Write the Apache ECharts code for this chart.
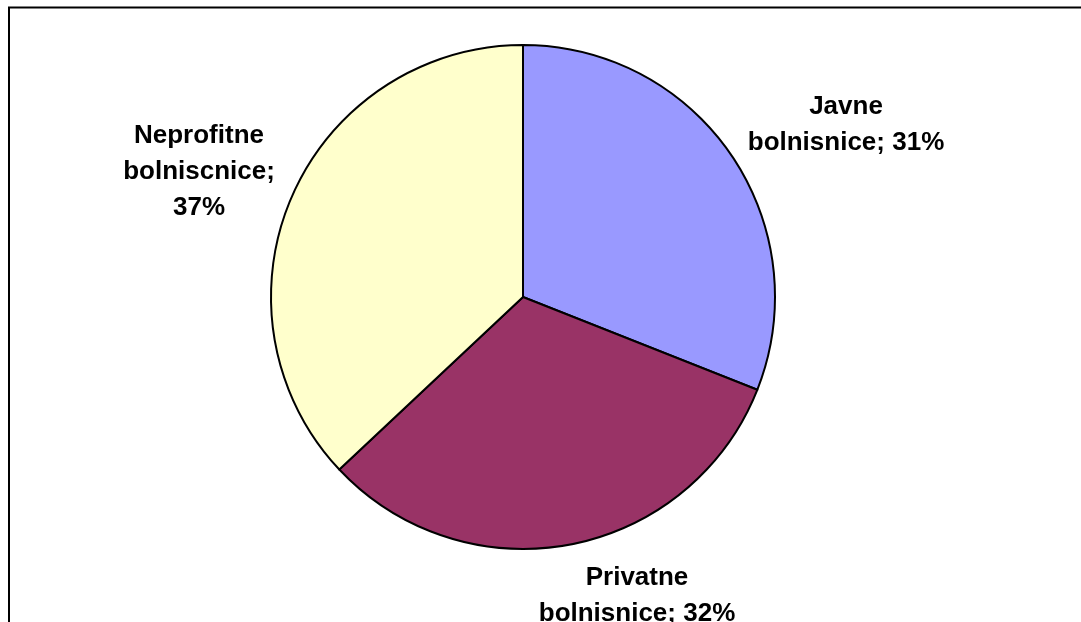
<!DOCTYPE html>
<html>
<head>
<meta charset="utf-8">
<script src="https://cdn.jsdelivr.net/npm/echarts@6/dist/echarts.min.js"></script>
<style>html,body{margin:0;padding:0;background:#fff;}#c{width:1081px;height:622px;}</style>
</head>
<body>
<div id="c"></div>
<script>
const categories = ['Javne bolnisnice', 'Privatne bolnisnice', 'Neprofitne bolniscnice'];
const values = [31, 32, 37];
const labelTexts = ['Javne\nbolnisnice; 31%', 'Privatne\nbolnisnice; 32%', 'Neprofitne\nbolniscnice;\n37%'];
const colors = ['#9999FF', '#993366', '#FFFFCC'];

const labelPos = [[846, 125], [637, 596], [199, 172]];

const chart = echarts.init(document.getElementById('c'));
chart.setOption({
  animation: false,
  backgroundColor: '#ffffff',
  graphic: [{
    type: 'rect',
    shape: { x: 9, y: 7.5, width: 1200, height: 800 },
    style: { fill: 'none', stroke: '#000', lineWidth: 2 },
    z: 0
  }],
  series: [{
    type: 'pie',
    center: [523, 297],
    radius: 252,
    startAngle: 90,
    clockwise: true,
    data: categories.map((c, i) => ({ name: c, value: values[i], itemStyle: { color: colors[i] } })),
    itemStyle: { borderColor: '#000', borderWidth: 2 },
    emphasis: { disabled: true },
    label: {
      show: true,
      position: 'outside',
      formatter: p => labelTexts[p.dataIndex],
      fontFamily: 'Liberation Sans, Arial, sans-serif',
      fontWeight: 'bold',
      fontSize: 26,
      lineHeight: 36,
      color: '#000',
      align: 'center'
    },
    labelLine: { show: false },
    labelLayout: p => ({
      x: labelPos[p.dataIndex][0],
      y: labelPos[p.dataIndex][1],
      align: 'center',
      verticalAlign: 'middle'
    })
  }]
});
</script>
</body>
</html>
